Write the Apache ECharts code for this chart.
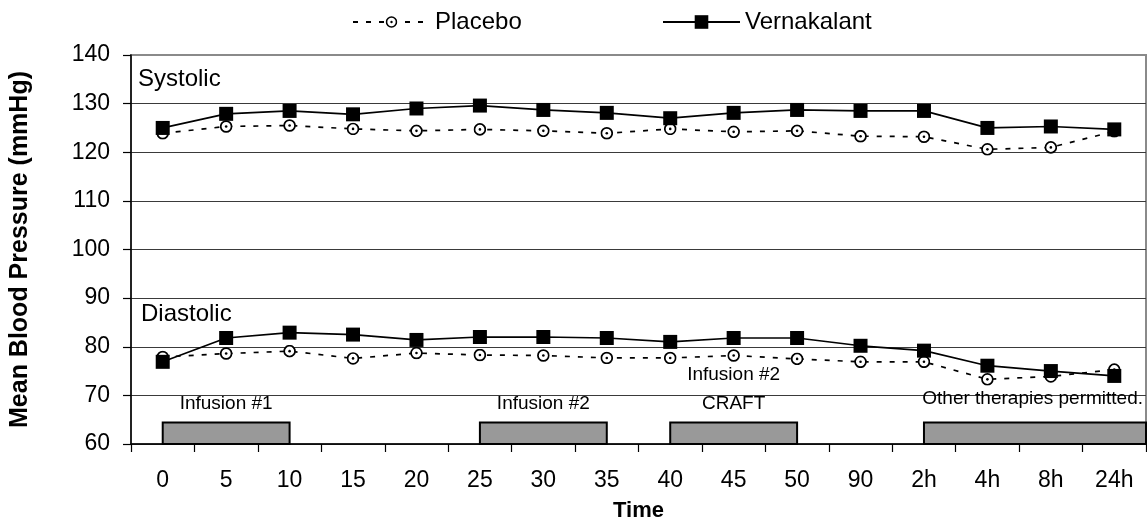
<!DOCTYPE html>
<html>
<head>
<meta charset="utf-8">
<style>
  html, body { margin: 0; padding: 0; background: #ffffff; }
  #chart { width: 1147px; height: 527px; }
</style>
<script src="https://cdn.jsdelivr.net/npm/echarts@6/dist/echarts.min.js"></script>
</head>
<body>
<div id="chart"></div>
<script>
// Time points (minutes, then hours)
const categories = ['0', '5', '10', '15', '20', '25', '30', '35', '40', '45', '50', '90', '2h', '4h', '8h', '24h'];

// Mean blood pressure (mmHg)
const vernakalantSystolic = [125.0, 127.9, 128.5, 127.8, 129.0, 129.6, 128.7, 128.1, 127.0, 128.1, 128.7, 128.5, 128.5, 125.0, 125.3, 124.7];
const placeboSystolic     = [123.9, 125.3, 125.5, 124.8, 124.4, 124.7, 124.4, 123.9, 124.8, 124.2, 124.4, 123.3, 123.2, 120.6, 121.0, 124.3];
const vernakalantDiastolic = [76.9, 81.8, 82.9, 82.5, 81.4, 82.0, 82.0, 81.8, 81.0, 81.8, 81.8, 80.2, 79.2, 76.1, 75.0, 74.0];
const placeboDiastolic     = [77.9, 78.6, 79.1, 77.6, 78.7, 78.3, 78.2, 77.7, 77.7, 78.2, 77.5, 76.9, 76.9, 73.3, 73.9, 75.3];

// Treatment phases shown as grey bands along the time axis
const phaseLabels = ['Infusion #1', 'Infusion #2', 'Infusion #2\nCRAFT', 'Other therapies permitted.'];
const phaseFrom = ['0', '25', '40', '2h'];
const phaseTo = ['10', '35', '50', '24h'];
const phaseOpenEnd = [false, false, false, true];
const phaseTop = 64.4;

// Y axis range and tick step
const yMin = 60, yMax = 140, yStep = 10;

const FONT = '"Liberation Sans", Arial, sans-serif';

const circleSvg =
  '<svg xmlns="http://www.w3.org/2000/svg" width="24" height="24" viewBox="0 0 24 24">' +
  '<circle cx="12" cy="12" r="10" fill="#ffffff" stroke="#000000" stroke-width="3.2"/>' +
  '<circle cx="12" cy="12" r="2.4" fill="#000000"/></svg>';
const dotCircle = 'image://data:image/svg+xml;charset=utf-8,' + encodeURIComponent(circleSvg);

const placeboStyle = {
  type: 'line',
  name: 'Placebo',
  symbol: dotCircle,
  symbolSize: 13,
  showSymbol: true,
  lineStyle: { color: '#000000', width: 1.7, type: [5, 8] },
  itemStyle: { color: '#000000' },
  emphasis: { disabled: true },
  z: 3
};
const vernakalantStyle = {
  type: 'line',
  name: 'Vernakalant',
  symbol: 'rect',
  symbolSize: 14,
  lineStyle: { color: '#000000', width: 1.7, type: 'solid' },
  itemStyle: { color: '#000000' },
  emphasis: { disabled: true },
  z: 4
};

const chart = echarts.init(document.getElementById('chart'), null, { renderer: 'canvas' });

const gridLineColors = [];
for (let v = yMin; v <= yMax; v += yStep) gridLineColors.push(v === yMax ? '#8a8a8a' : '#3a3a3a');

chart.setOption({
  animation: false,
  backgroundColor: '#ffffff',
  textStyle: { fontFamily: FONT, color: '#000000' },
  legend: [
    {
      data: ['Placebo'],
      left: 352, top: 10, padding: 0,
      itemWidth: 77, itemHeight: 15,
      selectedMode: false,
      textStyle: { fontFamily: FONT, fontSize: 24, color: '#000000' }
    },
    {
      data: ['Vernakalant'],
      left: 662, top: 10, padding: 0,
      itemWidth: 77, itemHeight: 17,
      selectedMode: false,
      textStyle: { fontFamily: FONT, fontSize: 24, color: '#000000' }
    }
  ],
  grid: {
    left: 131, right: 1, top: 55, bottom: 83,
    show: true,
    borderColor: '#8a8a8a',
    borderWidth: 2,
    backgroundColor: 'transparent'
  },
  xAxis: {
    type: 'category',
    data: categories,
    boundaryGap: true,
    name: 'Time',
    nameLocation: 'middle',
    nameGap: 56,
    nameTextStyle: { fontFamily: FONT, fontSize: 22, fontWeight: 'bold', color: '#000000' },
    axisLine: { show: true, lineStyle: { color: '#000000', width: 1.5 } },
    axisTick: { show: true, inside: false, length: 8, interval: 0, alignWithLabel: false, lineStyle: { color: '#000000', width: 1.2 } },
    axisLabel: { interval: 0, margin: 25, fontFamily: FONT, fontSize: 23, color: '#000000' },
    splitLine: { show: false }
  },
  yAxis: {
    type: 'value',
    min: yMin, max: yMax, interval: yStep,
    name: 'Mean Blood Pressure (mmHg)',
    nameLocation: 'middle',
    nameGap: 98,
    nameTextStyle: { fontFamily: FONT, fontSize: 25, fontWeight: 'bold', color: '#000000' },
    axisLine: { show: true, lineStyle: { color: '#000000', width: 1.5 } },
    axisTick: { show: true, inside: false, length: 8, lineStyle: { color: '#000000', width: 1.2 } },
    axisLabel: { margin: 21, fontFamily: FONT, fontSize: 23, color: '#000000' },
    splitLine: { show: true, lineStyle: { color: gridLineColors, width: 1.2 } }
  },
  series: [
    {
      type: 'custom',
      name: 'phases',
      coordinateSystem: 'cartesian2d',
      silent: true,
      z: 2,
      data: phaseLabels.map((label, i) => [phaseFrom[i], phaseTop]),
      renderItem: function (params, api) {
        const i = params.dataIndex;
        const cs = params.coordSys;
        const bottomLeft = api.coord([categories.indexOf(phaseFrom[i]), yMin]);
        const topRight = api.coord([categories.indexOf(phaseTo[i]), phaseTop]);
        const x0 = bottomLeft[0];
        const x1 = phaseOpenEnd[i] ? cs.x + cs.width : topRight[0];
        const yTop = topRight[1];
        const yBottom = bottomLeft[1];
        const open = phaseOpenEnd[i];
        return {
          type: 'group',
          children: [
            {
              type: 'rect',
              shape: { x: x0, y: yTop, width: x1 - x0, height: yBottom - yTop },
              style: { fill: '#999999', stroke: '#000000', lineWidth: 2 }
            },
            {
              type: 'text',
              x: open ? x1 - 3 : (x0 + x1) / 2,
              y: yTop - (open ? 9 : 4),
              style: {
                text: phaseLabels[i],
                font: '19px ' + FONT,
                fill: '#000000',
                align: open ? 'right' : 'center',
                verticalAlign: 'bottom',
                lineHeight: 29
              }
            }
          ]
        };
      }
    },
    Object.assign({}, placeboStyle, { data: placeboSystolic }),
    Object.assign({}, placeboStyle, { data: placeboDiastolic }),
    Object.assign({}, vernakalantStyle, { data: vernakalantSystolic }),
    Object.assign({}, vernakalantStyle, { data: vernakalantDiastolic })
  ],
  graphic: [
    {
      type: 'text', x: 138, y: 79,
      style: { text: 'Systolic', font: '24px ' + FONT, fill: '#000000', verticalAlign: 'middle' }
    },
    {
      type: 'text', x: 141, y: 314,
      style: { text: 'Diastolic', font: '24px ' + FONT, fill: '#000000', verticalAlign: 'middle' }
    }
  ]
});
</script>
</body>
</html>
